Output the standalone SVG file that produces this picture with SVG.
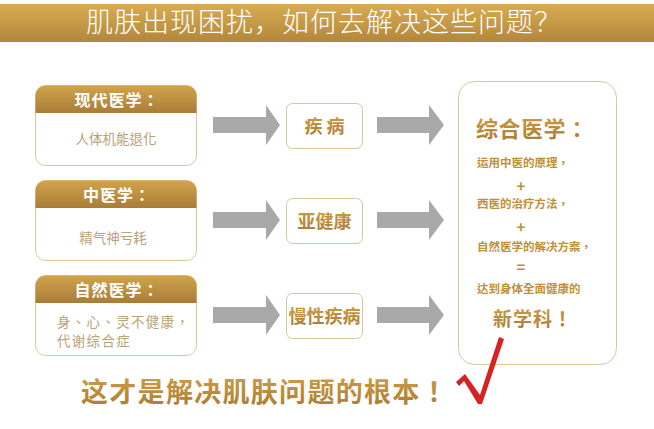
<svg xmlns="http://www.w3.org/2000/svg" width="654" height="429" viewBox="0 0 654 429">
<defs>
<linearGradient id="band" x1="0" y1="0" x2="0" y2="1">
<stop offset="0" stop-color="#d8ac52"/>
<stop offset="1" stop-color="#b2873c"/>
</linearGradient>
<linearGradient id="hdr" x1="0" y1="0" x2="0" y2="1">
<stop offset="0" stop-color="#d2a44c"/>
<stop offset="1" stop-color="#a97d38"/>
</linearGradient>
<linearGradient id="goldtxt" x1="0" y1="0" x2="0" y2="1">
<stop offset="0" stop-color="#d2a248"/>
<stop offset="1" stop-color="#a87a30"/>
</linearGradient>
<clipPath id="c1"><rect x="35.5" y="85.5" width="161" height="80" rx="10"/></clipPath>
<clipPath id="c2"><rect x="35.5" y="180.5" width="161" height="80" rx="10"/></clipPath>
<clipPath id="c3"><rect x="35.5" y="275.5" width="161" height="80" rx="10"/></clipPath>
</defs>
<style>
text{font-family:"Noto Sans CJK TC","Noto Sans CJK SC","Noto Sans",sans-serif}
.title{font-family:"Noto Sans CJK SC","Noto Sans",sans-serif}
.box{fill:#fff;stroke:#dcc79c;stroke-width:1}
.htxt{fill:#fff;font-size:16px;font-weight:700;text-anchor:middle;letter-spacing:1px}
.btxt{fill:#b9a27a;font-size:13.5px}
.mid{fill:url(#goldtxt);font-size:18px;font-weight:700;text-anchor:middle}
.arr{fill:#a9a9a9}
.sm{fill:#bf9038;font-size:11.5px;font-weight:700}
.op{fill:#bf9038;font-size:15px;font-weight:700;text-anchor:middle}
</style>
<rect x="0" y="4" width="654" height="38" fill="url(#band)"/>
<text class="title" x="324" y="32" fill="#fff" font-size="27" font-weight="300" text-anchor="middle" letter-spacing="1">肌肤出现困扰，如何去解决这些问题？</text>

<g id="node-modern">
<rect class="box" x="35.5" y="85.5" width="161" height="80" rx="10"/>
<rect x="35" y="85" width="162" height="28" fill="url(#hdr)" clip-path="url(#c1)"/>
<text class="htxt" x="117" y="106">现代医学：</text>
<text class="btxt" x="116" y="144" text-anchor="middle">人体机能退化</text>
</g>
<g id="node-tcm">
<rect class="box" x="35.5" y="180.5" width="161" height="80" rx="10"/>
<rect x="35" y="180" width="162" height="28" fill="url(#hdr)" clip-path="url(#c2)"/>
<text class="htxt" x="117" y="201">中医学：</text>
<text class="btxt" x="113" y="243" text-anchor="middle">精气神亏耗</text>
</g>
<g id="node-natural">
<rect class="box" x="35.5" y="275.5" width="161" height="80" rx="10"/>
<rect x="35" y="275" width="162" height="28" fill="url(#hdr)" clip-path="url(#c3)"/>
<text class="htxt" x="117" y="296">自然医学：</text>
<text class="btxt" x="57" y="327" font-size="13" letter-spacing="1.3">身、心、灵不健康，</text>
<text class="btxt" x="57" y="346" font-size="13" letter-spacing="1.3">代谢综合症</text>
</g>

<g id="node-disease">
<rect class="box" x="286.5" y="103.5" width="76" height="45" rx="6"/>
<text class="mid" x="324.5" y="133">疾 病</text>
</g>
<g id="node-subhealth">
<rect class="box" x="286.5" y="198.5" width="76" height="45" rx="6"/>
<text class="mid" x="324.5" y="228" font-size="19">亚健康</text>
</g>
<g id="node-chronic">
<rect class="box" x="286.5" y="293.5" width="76" height="45" rx="6"/>
<text class="mid" x="324.5" y="323" font-size="19">慢性疾病</text>
</g>

<g id="node-integrative">
<rect class="box" x="458.5" y="81.5" width="158" height="283" rx="16"/>
<text x="476" y="137" fill="url(#goldtxt)" font-size="22" font-weight="700" letter-spacing="0.5">综合医学：</text>
<text class="sm" x="477" y="167">运用中医的原理，</text>
<text class="op" x="521" y="192">+</text>
<text class="sm" x="477" y="208">西医的治疗方法，</text>
<text class="op" x="521" y="233">+</text>
<text class="sm" x="477" y="251">自然医学的解决方案，</text>
<text class="op" x="521" y="273">=</text>
<text class="sm" x="477" y="293" font-size="12">达到身体全面健康的</text>
<text x="493" y="326" fill="url(#goldtxt)" font-size="19" font-weight="700" letter-spacing="1">新学科！</text>
</g>

<g id="connectors">
<polygon class="arr" points="213,117 266,117 266,105 280,125 266,145 266,133 213,133"/>
<polygon class="arr" points="213,212 266,212 266,200 280,220 266,240 266,228 213,228"/>
<polygon class="arr" points="213,307 266,307 266,295 280,315 266,335 266,323 213,323"/>
<polygon class="arr" points="377,117 429,117 429,105 444,125 429,145 429,133 377,133"/>
<polygon class="arr" points="377,212 429,212 429,200 444,220 429,240 429,228 377,228"/>
<polygon class="arr" points="377,307 429,307 429,295 444,315 429,335 429,323 377,323"/>
</g>

<text x="81" y="402" fill="url(#goldtxt)" font-size="27" font-weight="700" letter-spacing="1.3">这才是解决肌肤问题的根本！</text>
<polygon points="456,382 465,374 480,395 499,337 504,339 482,404 478,404 464,381 459,386" fill="#d82222"/>
</svg>
